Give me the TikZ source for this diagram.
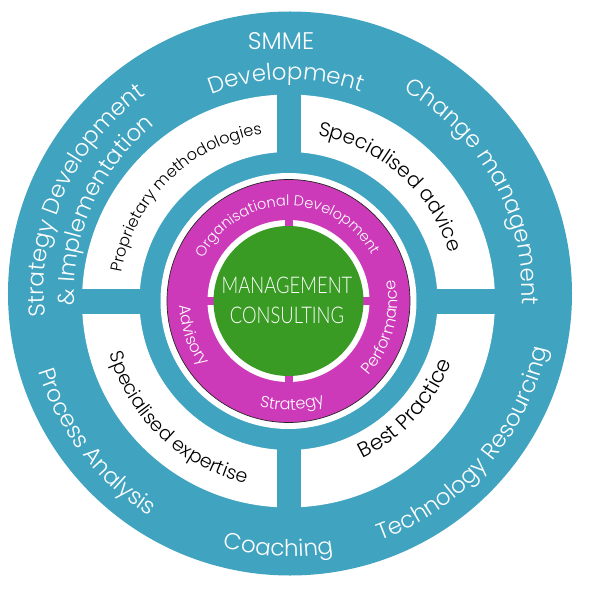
\documentclass[tikz,border=0pt]{standalone}
\usepackage{fontspec}
\setmainfont{Poppins}[UprightFont=* Light]
\newfontfamily\corefont[FakeStretch=0.8, UprightFont=* Light]{Lato}
\usetikzlibrary{decorations.text}

\definecolor{ringblue}{RGB}{64,163,192}
\definecolor{ringmagenta}{RGB}{205,58,185}
\definecolor{coregreen}{RGB}{58,155,36}

% text on an arc: centre, radius, mid angle, format, text
\newcommand{\toparc}[5]{%
  \path[shift={(#1)}, decorate, decoration={text along path, text align=center, text={|#4|#5}}]
    ({#3+80}:#2) arc[start angle={#3+80}, end angle={#3-80}, radius=#2];}
\newcommand{\botarc}[5]{%
  \path[shift={(#1)}, decorate, decoration={text along path, text align=center, text={|#4|#5}}]
    ({#3-80}:#2) arc[start angle={#3-80}, end angle={#3+80}, radius=#2];}

\begin{document}
\begin{tikzpicture}[x=1pt, y=1pt]
  \useasboundingbox (-288.5,-288) rectangle (310.5,301);
  \coordinate (O) at (0,0);
  \coordinate (Q) at (1.5,7.5);

  % Outer ring
  \fill[ringblue] (Q) circle (282);

  % White band cut by the cross
  \fill[white, even odd rule] (O) circle (206.5) (O) circle (149);
  \fill[ringblue] (-12,-210) rectangle (12,210);
  \fill[ringblue] (-210,-12.5) rectangle (210,12.5);

  % Core
  \fill[white] (O) circle (128);
  \filldraw[fill=ringmagenta, draw=black!85, line width=0.7pt] (O) circle (121.5);
  \fill[white] (O) circle (81);
  \fill[ringmagenta] (-4,-85) rectangle (4,85);
  \fill[ringmagenta] (-85,-4) rectangle (85,4);
  \fill[coregreen] (O) circle (75);
  \node[anchor=base, text=white, font=\corefont\fontsize{23}{27}\selectfont] (mgmt) at (-1.5,8) {MANAGEMENT};
  \node[anchor=base, text=white, font=\corefont\fontsize{23}{27}\selectfont] (cons) at (-1.5,-22) {CONSULTING};

  % Outer labels
  \node[anchor=base, text=white, font=\fontsize{24}{28}\selectfont] (smme) at (-7.5,251) {SMME};
  \toparc{Q}{214}{91}{\color{white}\fontsize{23}{27}\selectfont}{Development}
  \toparc{Q}{246}{155.7}{\color{white}\fontsize{23}{27}\selectfont}{Strategy Development}
  \toparc{Q}{216}{156}{\color{white}\fontsize{23}{27}\selectfont}{{\&} Implementation}
  \toparc{Q}{232}{29}{\color{white}\fontsize{23}{27}\selectfont}{Change management}
  \botarc{Q}{263}{217.5}{\color{white}\fontsize{23}{27}\selectfont}{Process Analysis}
  \botarc{Q}{263}{267.4}{\color{white}\fontsize{23}{27}\selectfont}{Coaching}
  \botarc{Q}{263}{319}{\color{white}\fontsize{23}{27}\selectfont}{Technology Resourcing}

  % Band labels
  \toparc{O}{169}{134.6}{\fontsize{16}{19}\selectfont}{Proprietary methodologies}
  \toparc{O}{168}{48.3}{\fontsize{20}{24}\selectfont}{Specialised advice}
  \botarc{O}{187}{226.6}{\fontsize{19}{23}\selectfont}{Specialised expertise}
  \botarc{O}{174}{317.4}{\fontsize{21}{25}\selectfont}{Best Practice}

  % Core labels
  \toparc{O}{95}{91}{\color{white}\fontsize{14.5}{17}\selectfont}{Organisational Development}
  \botarc{O}{109}{344.3}{\color{white}\fontsize{16}{19}\selectfont}{Performance}
  \botarc{O}{109}{272}{\color{white}\fontsize{16}{19}\selectfont}{Strategy}
  \botarc{O}{109}{199.7}{\color{white}\fontsize{16}{19}\selectfont}{Advisory}
\end{tikzpicture}
\end{document}
